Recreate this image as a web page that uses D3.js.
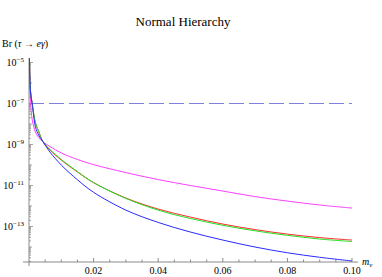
<!DOCTYPE html>
<html><head><meta charset="utf-8">
<script src="https://cdn.jsdelivr.net/npm/d3@7"></script>
<style>body{margin:0;background:#fff}svg{display:block}</style>
</head><body>
<svg id="c" width="382" height="277"></svg>
<script>
// data: x = m_nu, y = log10(Br)
const mValues = [0.0001, 0.00025, 0.0005, 0.001, 0.002, 0.003, 0.0043, 0.0065, 0.01, 0.015, 0.02, 0.03, 0.04, 0.05, 0.06, 0.07, 0.08, 0.09, 0.1];
const magenta = [-4.78, -5.85, -6.88, -7.80, -8.39, -8.66, -8.86, -9.10, -9.41, -9.73, -9.98, -10.37, -10.71, -11.00, -11.27, -11.54, -11.76, -11.95, -12.10];
const redS    = [-4.78, -5.61, -6.44, -7.02, -7.95, -8.36, -8.86, -9.27, -9.76, -10.34, -10.86, -11.61, -12.15, -12.54, -12.88, -13.15, -13.37, -13.54, -13.66];
const greenS  = [-4.78, -5.61, -6.44, -7.02, -7.95, -8.36, -8.86, -9.24, -9.73, -10.32, -10.86, -11.63, -12.20, -12.61, -12.94, -13.21, -13.43, -13.61, -13.73];
const blueS   = [-4.78, -5.66, -6.49, -7.02, -8.15, -8.54, -8.86, -9.37, -10.00, -10.72, -11.33, -12.20, -12.80, -13.27, -13.66, -14.00, -14.28, -14.50, -14.68];
const dashLevel = -7;
const xTicks = [0.02, 0.04, 0.06, 0.08, 0.10];
const yTickExps = [-5, -7, -9, -11, -13];
const seriesColors = ["#ff40ff", "#ff2a2a", "#22e022", "#2a2aff"];

const svg = d3.select("#c");
const x = d3.scaleLinear().domain([0, 0.1]).range([29, 352]);
const y = d3.scaleLinear().domain([-14.73, -4.78]).range([262, 58]);

svg.append("clipPath").attr("id","clip").append("rect").attr("x",29).attr("y",57).attr("width",330).attr("height",207);

const axisCol = "#8a8a8a";
svg.append("line").attr("x1",23).attr("x2",358).attr("y1",262).attr("y2",262).attr("stroke",axisCol).attr("stroke-width",1);
svg.append("line").attr("x1",29).attr("x2",29).attr("y1",58).attr("y2",266).attr("stroke",axisCol).attr("stroke-width",1);

// x ticks
const minorX = d3.range(1, 21).map(i => i*0.005);
minorX.forEach(v => {
  const major = Math.abs(v/0.02 - Math.round(v/0.02)) < 1e-9;
  svg.append("line").attr("x1",x(v)).attr("x2",x(v)).attr("y1",262).attr("y2",262-(major?4:2.5))
    .attr("stroke",axisCol).attr("stroke-width",1);
});
xTicks.forEach(v => {
  svg.append("text").attr("x",x(v)).attr("y",274).attr("text-anchor","middle")
    .attr("font-family","Liberation Serif").attr("font-size",10).text(v.toFixed(2));
});
// y ticks
for (let e = -15; e <= -5; e++) {
  for (let k = 1; k <= 9; k++) {
    const lv = e + Math.log10(k);
    if (lv < -14.73 || lv > -4.78) continue;
    const major = (k === 1 && yTickExps.includes(e));
    const len = major ? 4 : (k === 1 ? 3 : 2);
    svg.append("line").attr("x1",29).attr("x2",29+len).attr("y1",y(lv)).attr("y2",y(lv))
      .attr("stroke",axisCol).attr("stroke-width",0.8);
  }
}
yTickExps.forEach(e => {
  const t = svg.append("text").attr("x",24).attr("y",y(e)+3.5).attr("text-anchor","end")
    .attr("font-family","Liberation Serif").attr("font-size",10);
  t.append("tspan").text("10");
  t.append("tspan").attr("dy",-4).attr("font-size",7).text("\u2212" + Math.abs(e));
});

// dashed line
svg.append("line").attr("x1",x(0)).attr("x2",x(0.1)).attr("y1",y(dashLevel)).attr("y2",y(dashLevel))
  .attr("stroke","#7f7fdd").attr("stroke-width",1.2).attr("stroke-dasharray","15,5");

// curves
const line = d3.line().x(d => x(d[0])).y(d => y(d[1])).curve(d3.curveCatmullRom.alpha(0.5));
[magenta, redS, greenS, blueS].forEach((s, i) => {
  svg.append("path").attr("d", line(mValues.map((m, j) => [m, s[j]])))
    .attr("fill","none").attr("stroke",seriesColors[i]).attr("stroke-width",1)
    .attr("clip-path","url(#clip)");
});

// title
svg.append("text").attr("x",183).attr("y",26).attr("text-anchor","middle")
  .attr("font-family","Liberation Serif").attr("font-size",13).text("Normal Hierarchy");
// y label
const yl = svg.append("text").attr("x",2).attr("y",47).attr("font-family","Liberation Serif").attr("font-size",10);
yl.append("tspan").text("Br (");
yl.append("tspan").attr("font-style","italic").text("\u03c4");
yl.append("tspan").text(" \u2192 ");
yl.append("tspan").attr("font-style","italic").text("e\u03b3");
yl.append("tspan").text(")");
// x label
const xl = svg.append("text").attr("x",362).attr("y",265).attr("font-family","Liberation Serif").attr("font-size",10).attr("font-style","italic");
xl.append("tspan").text("m");
xl.append("tspan").attr("dy",2).attr("font-size",7).text("\u03bd");
</script>
</body></html>
